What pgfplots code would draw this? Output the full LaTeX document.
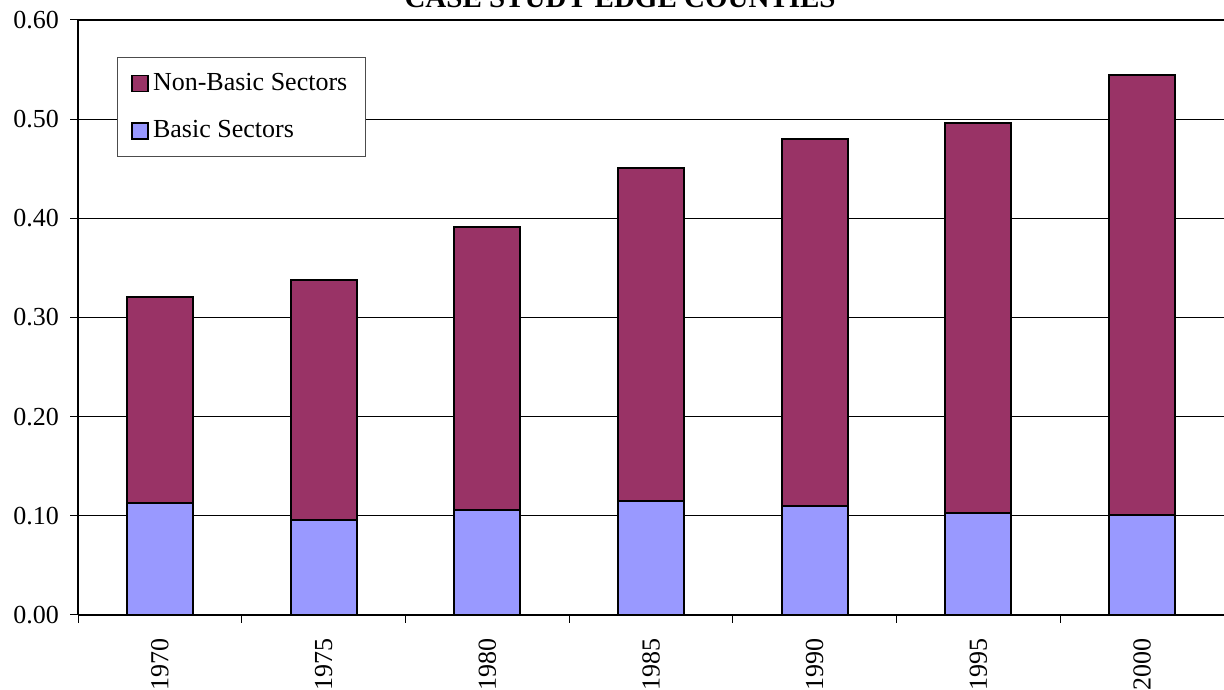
\documentclass[border=0pt]{standalone}
\usepackage{pgfplots}
\pgfplotsset{compat=1.18}
\usepackage{fontspec}
\setmainfont{Liberation Serif}
\usetikzlibrary{calc}
\definecolor{basic}{HTML}{9999FF}
\definecolor{nonbasic}{HTML}{993366}

\begin{document}
\begin{tikzpicture}
\begin{axis}[
    scale only axis,
    width=573pt, height=297.5pt,
    ybar stacked, bar width=33pt,
    xmin=-0.5, xmax=6.5, ymin=0, ymax=0.6,
    clip=false,
    axis x line=bottom, axis y line=left,
    axis line style={-, black},
    x axis line style={line width=1pt},
    y axis line style={line width=1pt},
    xtick={0,...,6},
    xticklabels={1970,1975,1980,1985,1990,1995,2000},
    major x tick style={draw=none},
    minor xtick={-0.5,0.5,...,6.5},
    minor x tick style={black, line width=0.5pt},
    ytick={0,0.1,...,0.6},
    ytick style={black, line width=0.5pt},
    tick align=outside,
    major tick length=4pt, minor tick length=4pt,
    ymajorgrids,
    grid style={black, line width=0.5pt},
    extra y ticks={0.6}, extra y tick labels={},
    extra y tick style={grid style={black, line width=1.2pt}},
    ticklabel style={font=\fontsize{13}{15}\selectfont},
    yticklabel style={xshift=-2pt, /pgf/number format/.cd, fixed, fixed zerofill, precision=2, assume math mode=true},
    xticklabel style={rotate=90, anchor=east, xshift=-4pt},
    legend style={at={(rel axis cs:0.034,0.938)}, anchor=north west,
        draw=black!70, line width=0.5pt, font=\fontsize{13}{15}\selectfont,
        row sep=9.5pt, inner xsep=7pt, inner ysep=6pt,
        /tikz/every even column/.append style={column sep=1pt}},
    legend cell align=left,
    reverse legend,
    legend image code/.code={\draw[#1, line width=0.8pt] (0pt,-4pt) rectangle (8pt,4pt);},
]
\addplot[fill=basic, draw=black, line width=1pt] coordinates {
    (0,0.113) (1,0.096) (2,0.106) (3,0.115) (4,0.110) (5,0.103) (6,0.101)};
\addplot[fill=nonbasic, draw=black, line width=1pt] coordinates {
    (0,0.208) (1,0.242) (2,0.285) (3,0.336) (4,0.370) (5,0.393) (6,0.444)};
\legend{Basic Sectors, Non-Basic Sectors}
\node[anchor=base, yshift=6pt, font=\bfseries\fontsize{14.5}{17}\selectfont]
    at (rel axis cs:0.473,1) {CASE STUDY EDGE COUNTIES};
\end{axis}
\pgfresetboundingbox
\path[use as bounding box] ($(current axis.south west)+(-39pt,-37.5pt)$)
    rectangle ($(current axis.north east)+(0,10pt)$);
\end{tikzpicture}
\end{document}
